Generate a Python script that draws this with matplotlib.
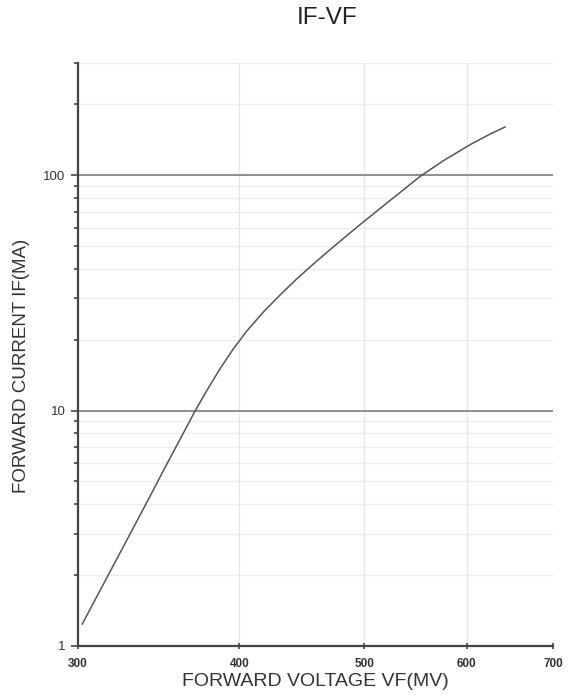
import numpy as np
import matplotlib
matplotlib.use("Agg")
import matplotlib.pyplot as plt
from matplotlib.ticker import FixedLocator, NullFormatter, FixedFormatter

# IF-VF curve (mV, mA)
vf_mv = [302.3, 308.3, 320.1, 329.9, 340.0, 349.9, 360.0, 364.3, 369.8, 377.6,
         386.6, 395.9, 405.4, 417.7, 430.2, 443.2, 456.6, 470.5, 484.7, 499.0,
         511.0, 526.4, 552.4, 575.8, 603.7, 625.6, 642.6]
if_ma = [1.24, 1.52, 2.24, 3.06, 4.18, 5.65, 7.58, 8.57, 10.0, 12.2,
         15.1, 18.35, 21.8, 26.3, 31.0, 36.3, 42.0, 48.4, 55.5, 63.3,
         70.3, 80.1, 99.0, 115.4, 134.9, 149.6, 160.4]

x_ticks = [300, 400, 500, 600, 700]
y_major = [1, 10, 100]
y_minor = [2, 3, 4, 5, 6, 7, 8, 9, 20, 30, 40, 50, 60, 70, 80, 90, 200, 300]

plt.rcParams['font.family'] = ['Liberation Sans', 'DejaVu Sans']

fig = plt.figure(figsize=(5.71, 6.98), dpi=100)
ax = fig.add_axes([78/571, 1-646/698, (553-78)/571, (646-63)/698])

ax.set_xscale('log')
ax.set_yscale('log')
ax.set_xlim(300, 700)
ax.set_ylim(1, 300)

# grid lines
for v in y_minor:
    ax.axhline(v, color='#ededed', lw=0.9, zorder=0)
for v in [10, 100]:
    ax.axhline(v, color='#8e8e8e', lw=1.4, zorder=1)
for v in x_ticks[1:-1]:
    ax.axvline(v, color='#e6e6e6', lw=1.0, zorder=0)

ax.plot(vf_mv, if_ma, color='#555555', lw=1.1, zorder=3, solid_joinstyle='round')

ax.xaxis.set_major_locator(FixedLocator(x_ticks))
ax.xaxis.set_major_formatter(FixedFormatter([str(v) for v in x_ticks]))
ax.xaxis.set_minor_locator(FixedLocator([]))
ax.xaxis.set_minor_formatter(NullFormatter())
ax.yaxis.set_major_locator(FixedLocator(y_major))
ax.yaxis.set_major_formatter(FixedFormatter([str(v) for v in y_major]))
ax.yaxis.set_minor_locator(FixedLocator(y_minor))
ax.yaxis.set_minor_formatter(NullFormatter())

ax.tick_params(axis='x', which='major', direction='inout', length=5, width=1.2,
               color='#444444', labelsize=8.5, pad=6, labelcolor='#333333')
ax.tick_params(axis='y', which='major', direction='out', length=5, width=1.2,
               color='#444444', labelsize=9.5, pad=4, labelcolor='#333333')
ax.tick_params(axis='y', which='minor', direction='out', length=3, width=1.2,
               color='#444444')
for lab in ax.get_xticklabels():
    lab.set_fontweight('bold')

for s in ['top', 'right']:
    ax.spines[s].set_visible(False)
for s in ['left', 'bottom']:
    ax.spines[s].set_color('#444444')
    ax.spines[s].set_linewidth(1.6)

ax.set_xlabel('FORWARD VOLTAGE VF(MV)', fontsize=14, color='#333333', labelpad=2)
ax.set_ylabel('FORWARD CURRENT IF(MA)', fontsize=13.5, color='#333333')
ax.yaxis.set_label_coords(-0.100, 0.48)
fig.text(327/571, 1-18/698, 'IF-VF', fontsize=17.5, color='#222222', ha='center', va='center')

fig.savefig('out.png', dpi=100)
